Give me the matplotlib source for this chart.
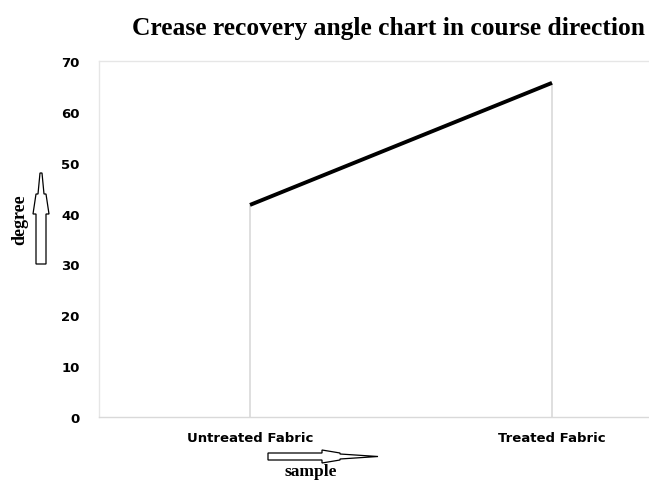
import matplotlib
matplotlib.use("Agg")
import matplotlib.pyplot as plt
from matplotlib.patches import Polygon

categories = ["Untreated Fabric", "Treated Fabric"]
values = [41.7, 65.7]
yticks = [0, 10, 20, 30, 40, 50, 60, 70]

W, H = 649, 481
fig = plt.figure(figsize=(W / 100, H / 100), dpi=100)
fig.patch.set_facecolor("white")

def fx(px):
    return px / W

def fy(py):
    return 1 - py / H

left, right, top, bottom = 99, 703, 62, 418
ax = fig.add_axes([fx(left), fy(bottom), fx(right - left), (bottom - top) / H])

xs = list(range(len(categories)))
ax.vlines(xs, 0, values, colors="#d9d9d9", linewidth=1.2, zorder=1)
ax.plot(xs, values, color="black", linewidth=2.8, solid_capstyle="butt", zorder=2)

ax.set_xlim(-0.5, len(categories) - 0.5)
ax.set_ylim(0, 70)
ax.set_yticks(yticks)
ax.set_xticks(xs)
ax.set_xticklabels(categories)
ax.tick_params(length=0)
for lab in ax.get_xticklabels() + ax.get_yticklabels():
    lab.set_fontweight("bold")
    lab.set_fontsize(9.5)
    lab.set_fontfamily("DejaVu Sans")
ax.tick_params(axis="y", pad=14)
ax.tick_params(axis="x", pad=10)
for s in ax.spines.values():
    s.set_color("#e6e6e6")
    s.set_linewidth(1)
ax.spines["right"].set_visible(False)
ax.spines["bottom"].set_color("#d9d9d9")

fig.text(fx(388), fy(28), "Crease recovery angle chart in course direction",
         ha="center", va="center", fontsize=18.4, fontweight="bold",
         family="Liberation Serif")
fig.text(fx(20), fy(220), "degree", rotation=90, ha="center", va="center",
         fontsize=13, fontweight="bold", family="Liberation Serif")
fig.text(fx(311), fy(472), "sample", ha="center", va="center",
         fontsize=12.5, fontweight="bold", family="Liberation Serif")

# up arrow (hollow)
up = [(36, 265), (46, 265), (46, 215), (49, 215), (46, 195), (44, 195), (42, 174),
      (40, 174), (38, 195), (36, 195), (33, 215), (36, 215)]
fig.add_artist(Polygon([(fx(x), fy(y)) for x, y in up], closed=True,
                       transform=fig.transFigure, facecolor="white",
                       edgecolor="black", linewidth=0.9))
# right arrow (hollow)
rt = [(268, 454), (322, 454), (322, 451), (340, 454), (340, 455), (378, 457.5),
      (340, 460), (340, 461), (322, 464), (322, 461), (268, 461)]
fig.add_artist(Polygon([(fx(x), fy(y)) for x, y in rt], closed=True,
                       transform=fig.transFigure, facecolor="white",
                       edgecolor="black", linewidth=0.9))

fig.savefig("out.png", dpi=100)
